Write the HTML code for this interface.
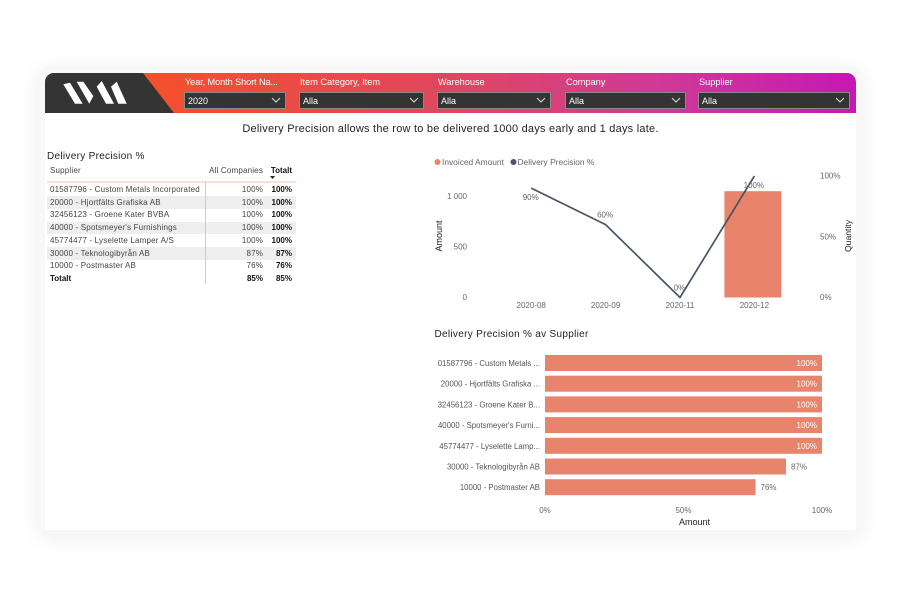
<!DOCTYPE html>
<html lang="sv">
<head>
<meta charset="utf-8">
<title>Delivery Precision</title>
<style>
html,body{margin:0;padding:0;background:#fff;}
body{width:900px;height:600px;position:relative;overflow:hidden;font-family:"Liberation Sans",sans-serif;}
#frame{position:absolute;left:38px;top:66px;width:824px;height:468px;border-radius:12px;background:#f8f8f8;box-shadow:0 4px 22px rgba(0,0,0,.07);}
#card{position:absolute;left:45px;top:73px;width:811px;height:457px;background:#fff;border-radius:8px 8px 0 0;}
#banner{position:absolute;left:45px;top:73px;width:811px;height:40px;border-radius:9px 9px 0 0;overflow:hidden;background:linear-gradient(90deg,#f4502a 12%,#e04660 50%,#d03a96 75%,#c618b4 100%);}
.slabel{position:absolute;top:77px;color:#fff;font-size:9.2px;line-height:11px;white-space:nowrap;}
.slicer{position:absolute;top:92px;height:15px;background:#343434;border:1px solid #8a8a8a;color:#fff;font-size:9px;line-height:17px;text-indent:3px;}
.slicer svg{position:absolute;right:4px;top:4px;}
#headline{position:absolute;left:45px;width:811px;top:122px;text-align:center;font-size:11px;line-height:14px;color:#252423;letter-spacing:.23px;white-space:nowrap;}
#table-title{position:absolute;left:47px;top:151px;font-size:10px;line-height:12px;color:#252423;letter-spacing:.3px;}
.cell{position:absolute;font-size:8px;line-height:12px;color:#444;white-space:nowrap;letter-spacing:.18px;}
.r{text-align:right;}
.b{font-weight:bold;color:#111;letter-spacing:0;}
svg text{font-family:"Liberation Sans",sans-serif;}
#charts{position:absolute;left:0;top:0;}
</style>
</head>
<body>
<div id="frame"></div>
<div id="card"></div>
<div id="banner">
  <svg width="811" height="40" style="position:absolute;left:0;top:0">
    <polygon points="0,0 98,0 129,40 0,40" fill="#343434"/>
    <g fill="#fff">
      <polygon points="18.3,11.3 25,9.7 37.7,30.7 30,30.7"/>
      <polygon points="31.7,8.7 38.3,8.7 48.3,23 44.3,30.7"/>
      <polygon points="51.7,13.7 56.7,8 69,30.7 61,30.7"/>
      <polygon points="66,13.7 71.7,8.7 81.7,30.7 73.3,30.7"/>
    </g>
  </svg>
</div>

<div class="slabel" style="left:185px;letter-spacing:-.1px">Year, Month Short Na...</div>
<div class="slicer" style="left:184px;width:100px">2020<svg width="10" height="7"><polyline points="1,1 5,5 9,1" fill="none" stroke="#ddd"/></svg></div>
<div class="slabel" style="left:300px">Item Category, Item</div>
<div class="slicer" style="left:299px;width:123px">Alla<svg width="10" height="7"><polyline points="1,1 5,5 9,1" fill="none" stroke="#ddd"/></svg></div>
<div class="slabel" style="left:438px">Warehouse</div>
<div class="slicer" style="left:437px;width:112px">Alla<svg width="10" height="7"><polyline points="1,1 5,5 9,1" fill="none" stroke="#ddd"/></svg></div>
<div class="slabel" style="left:566px">Company</div>
<div class="slicer" style="left:565px;width:119px">Alla<svg width="10" height="7"><polyline points="1,1 5,5 9,1" fill="none" stroke="#ddd"/></svg></div>
<div class="slabel" style="left:699px">Supplier</div>
<div class="slicer" style="left:698px;width:150px">Alla<svg width="10" height="7"><polyline points="1,1 5,5 9,1" fill="none" stroke="#ddd"/></svg></div>

<div id="headline">Delivery Precision allows the row to be delivered 1000 days early and 1 days late.</div>

<div id="table-title">Delivery Precision %</div>
<div id="matrix"></div>

<svg id="charts" width="900" height="600"></svg>

<script>
var tableSuppliers = ["01587796 - Custom Metals Incorporated","20000 - Hjortfälts Grafiska AB","32456123 - Groene Kater BVBA","40000 - Spotsmeyer's Furnishings","45774477 - Lyselette Lamper A/S","30000 - Teknologibyrån AB","10000 - Postmaster AB"];
var tableCompanies = ["100%","100%","100%","100%","100%","87%","76%"];
var tableTotals = ["100%","100%","100%","100%","100%","87%","76%"];

var months = ["2020-08","2020-09","2020-11","2020-12"];
var invoicedAmount = [0,0,0,1050];
var deliveryPrecision = [90,60,0,100];
var amountTicks = [0,500,1000];
var amountTickLabels = ["0","500","1 000"];
var precisionTicks = [0,50,100];

var barSuppliers = ["01587796 - Custom Metals ...","20000 - Hjortfälts Grafiska ...","32456123 - Groene Kater B...","40000 - Spotsmeyer's Furni...","45774477 - Lyselette Lamp...","30000 - Teknologibyrån AB","10000 - Postmaster AB"];
var barValues = [100,100,100,100,100,87,76];
var barTicks = [0,50,100];

var SVGNS = "http://www.w3.org/2000/svg";
var svg = document.getElementById("charts");
function mk(tag, attrs, parent, text) {
  var el = document.createElementNS(SVGNS, tag);
  for (var k in attrs) el.setAttribute(k, attrs[k]);
  if (text !== undefined) el.textContent = text;
  (parent || svg).appendChild(el);
  return el;
}
function label(x, y, text, size, fill, anchor, name, extra) {
  var attrs = {x:x, y:y, "font-size":size, fill:fill, "text-anchor":anchor || "start"};
  if (extra) for (var k in extra) attrs[k] = extra[k];
  var el = mk("text", attrs, svg, text);
  
  
  return el;
}

/* matrix table */
var matrix = document.getElementById("matrix");
function cell(text, left, top, width, cls, name) {
  var d = document.createElement("div");
  d.className = "cell " + cls;
  d.style.left = left + "px";
  d.style.top = top + "px";
  if (width) d.style.width = width + "px";
  d.textContent = text;
  
  
  matrix.appendChild(d);
}
var rowTop = 183.5, rowStep = 12.7, textDrop = 0.5;
for (var s = 1; s < 6; s += 2) {
  var band = document.createElement("div");
  band.style.cssText = "position:absolute;left:47px;width:249px;height:12.7px;background:#eeeeee;top:" + (rowTop + s * rowStep) + "px";
  
  
  matrix.appendChild(band);
}
cell("Supplier", 50, 165, 0, "", "supplier-column-header");
cell("All Companies", 190, 165, 73, "r", "companies-column-header");
cell("Totalt", 262, 165, 30, "r b", "total-column-header");
tableSuppliers.forEach(function (name, i) {
  var t = rowTop + textDrop + i * rowStep;
  cell(name, 50, t, 0, "", "supplier-cell");
  cell(tableCompanies[i], 213, t, 50, "r", "company-value-cell");
  cell(tableTotals[i], 262, t, 30, "r b", "total-value-cell");
});
var totalTop = rowTop + textDrop + 7 * rowStep;
cell("Totalt", 50, totalTop, 0, "b", "total-row-label");
cell("85%", 213, totalTop, 50, "r b", "total-row-company");
cell("85%", 262, totalTop, 30, "r b", "total-row-total");

var headRule = mk("line", {x1:47, x2:296, y1:182, y2:182, stroke:"#f3bfae", "stroke-width":1});


var colRule = mk("line", {x1:205.5, x2:205.5, y1:182, y2:284, stroke:"#f3bfae", "stroke-width":1});


var sortArrow = mk("polygon", {points:"270,176 275,176 272.5,179", fill:"#222"});



/* combo chart */
var bandStart = 494.5, bandStep = 74.4, barWidth = 57, barShift = -2;
var plotBottom = 297.5, plotTop = 176, amountMax = 1200, precisionMax = 100;
function xBand(i) { return bandStart + bandStep * (i + 0.5); }
function yAmount(v) { return plotBottom - v / amountMax * (plotBottom - plotTop); }
function yPrecision(v) { return plotBottom - v / precisionMax * (plotBottom - plotTop); }

var dot1 = mk("circle", {cx:437.5, cy:162, r:3, fill:"#e8846b"});


label(442, 165, "Invoiced Amount", 8.4, "#666", "start", "legend-invoiced-label");
var dot2 = mk("circle", {cx:513.5, cy:162, r:3, fill:"#4a5464"});


label(517.5, 165, "Delivery Precision %", 8.4, "#666", "start", "legend-precision-label");

amountTicks.forEach(function (v, i) {
  label(467, yAmount(v) + 2.5, amountTickLabels[i], 8, "#666", "end", "amount-axis-tick");
});
precisionTicks.forEach(function (v) {
  label(820, yPrecision(v) + 2.5, v + "%", 8, "#666", "start", "precision-axis-tick");
});
label(442, 236, "Amount", 9, "#222", "middle", "amount-axis-title", {transform:"rotate(-90 442 236)"});
label(851, 236, "Quantity", 8.6, "#222", "middle", "quantity-axis-title", {transform:"rotate(-90 851 236)"});

months.forEach(function (m, i) {
  label(xBand(i) - 0.5, 308, m, 8, "#666", "middle", "month-axis-tick");
  if (invoicedAmount[i] > 0) {
    var b = mk("rect", {x:xBand(i) + barShift - barWidth / 2, y:yAmount(invoicedAmount[i]), width:barWidth, height:plotBottom - yAmount(invoicedAmount[i]), fill:"#e8846b"});
    
    
  }
});
var linePts = deliveryPrecision.map(function (v, i) { return (xBand(i) - 0.5) + "," + yPrecision(v); }).join(" ");
var line = mk("polyline", {points:linePts, fill:"none", stroke:"#4a5464", "stroke-width":1.7, "stroke-linejoin":"round"});


var labelOffsets = [12, -7, -7, 12];
deliveryPrecision.forEach(function (v, i) {
  label(xBand(i) - 1, yPrecision(v) + labelOffsets[i], v + "%", 8, "#666", "middle", "precision-data-label");
});

/* bar chart */
label(434.5, 337, "Delivery Precision % av Supplier", 10, "#252423", "start", "bar-chart-title", {"letter-spacing":".3"});
var barLeft = 545, barRight = 822, barMax = 100, barTop = 355, barStep = 20.7, barHeight = 16;
function xBar(v) { return barLeft + v / barMax * (barRight - barLeft); }
barSuppliers.forEach(function (name, i) {
  var y = barTop + i * barStep;
  label(540, y + 11, name, 7.8, "#555", "end", "supplier-axis-label");
  var r = mk("rect", {x:barLeft, y:y, width:xBar(barValues[i]) - barLeft, height:barHeight, fill:"#e8846b"});
  
  
  var inside = barValues[i] >= 100;
  label(inside ? xBar(barValues[i]) - 5 : xBar(barValues[i]) + 5, y + 11, barValues[i] + "%", 8,
        inside ? "#fff" : "#666", inside ? "end" : "start", "supplier-bar-value");
});
barTicks.forEach(function (v) {
  label(xBar(v), 513, v + "%", 8, "#666", "middle", "bar-axis-tick");
});
label(694.5, 525, "Amount", 9, "#222", "middle", "bar-axis-title");
</script>
</body>
</html>
